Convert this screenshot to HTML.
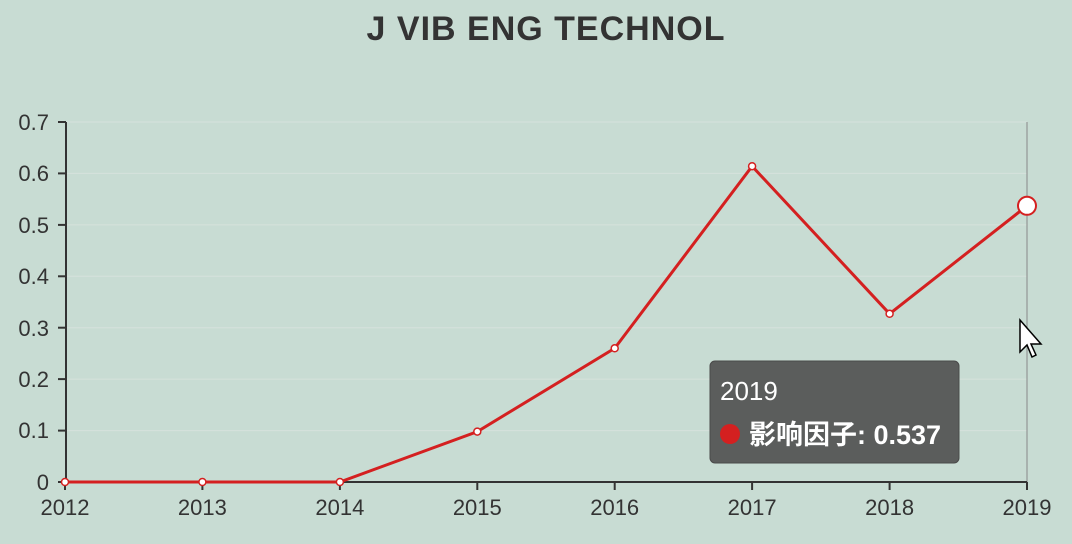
<!DOCTYPE html>
<html><head><meta charset="utf-8"><style>
html,body{margin:0;padding:0;background:#c8dcd3;}
svg{display:block;font-family:"Liberation Sans","Noto Sans CJK SC",sans-serif;}
</style></head><body>
<svg width="1072" height="544" viewBox="0 0 1072 544">
<rect width="1072" height="544" fill="#c8dcd3"/>
<text x="546" y="40" text-anchor="middle" font-size="34" font-weight="bold" fill="#333" letter-spacing="1">J VIB ENG TECHNOL</text>
<g stroke="#d6e2dc" stroke-width="1">
<line x1="66" y1="122" x2="1027" y2="122"/><line x1="66" y1="173.4" x2="1027" y2="173.4"/>
<line x1="66" y1="224.9" x2="1027" y2="224.9"/><line x1="66" y1="276.3" x2="1027" y2="276.3"/>
<line x1="66" y1="327.7" x2="1027" y2="327.7"/><line x1="66" y1="379.1" x2="1027" y2="379.1"/>
<line x1="66" y1="430.6" x2="1027" y2="430.6"/>
</g>
<line x1="1027" y1="122" x2="1027" y2="482" stroke="#888" stroke-width="1"/>
<g stroke="#333" stroke-width="2">
<line x1="66" y1="122" x2="66" y2="483"/><line x1="58" y1="482" x2="1027" y2="482"/>
<line x1="58" y1="122" x2="66" y2="122"/><line x1="58" y1="173.4" x2="66" y2="173.4"/>
<line x1="58" y1="224.9" x2="66" y2="224.9"/><line x1="58" y1="276.3" x2="66" y2="276.3"/>
<line x1="58" y1="327.7" x2="66" y2="327.7"/><line x1="58" y1="379.1" x2="66" y2="379.1"/>
<line x1="58" y1="430.6" x2="66" y2="430.6"/>
<line x1="65" y1="482" x2="65" y2="490"/><line x1="202.4" y1="482" x2="202.4" y2="490"/>
<line x1="339.9" y1="482" x2="339.9" y2="490"/><line x1="477.3" y1="482" x2="477.3" y2="490"/>
<line x1="614.7" y1="482" x2="614.7" y2="490"/><line x1="752.1" y1="482" x2="752.1" y2="490"/>
<line x1="889.6" y1="482" x2="889.6" y2="490"/><line x1="1027" y1="482" x2="1027" y2="490"/>
</g>
<g font-size="22" fill="#333" text-anchor="end">
<text x="49" y="130">0.7</text><text x="49" y="181">0.6</text><text x="49" y="233">0.5</text>
<text x="49" y="284">0.4</text><text x="49" y="336">0.3</text><text x="49" y="387">0.2</text>
<text x="49" y="438">0.1</text><text x="49" y="490">0</text>
</g>
<g font-size="22" fill="#333" text-anchor="middle">
<text x="65" y="515">2012</text><text x="202.4" y="515">2013</text><text x="339.9" y="515">2014</text>
<text x="477.3" y="515">2015</text><text x="614.7" y="515">2016</text><text x="752.1" y="515">2017</text>
<text x="889.6" y="515">2018</text><text x="1027" y="515">2019</text>
</g>
<polyline fill="none" stroke="#d42020" stroke-width="3" points="65,482 202.4,482 339.9,482 477.3,431.6 614.7,348.3 752.1,166.2 889.6,313.8 1027,205.8"/>
<g fill="#fff" stroke="#d42020" stroke-width="1.5">
<circle cx="65" cy="482" r="3.5"/><circle cx="202.4" cy="482" r="3.5"/><circle cx="339.9" cy="482" r="3.5"/>
<circle cx="477.3" cy="431.6" r="3.5"/><circle cx="614.7" cy="348.3" r="3.5"/><circle cx="752.1" cy="166.2" r="3.5"/>
<circle cx="889.6" cy="313.8" r="3.5"/><circle cx="1027" cy="205.8" r="9" stroke-width="2"/>
</g>
<rect x="710" y="361" width="249" height="102" rx="5" fill="#5b5d5c" stroke="#4a4a4a"/>
<text x="720" y="400" font-size="26" fill="#fff">2019</text>
<circle cx="730" cy="434" r="10" fill="#d42020"/>
<text x="749" y="444" font-size="27" font-weight="bold" fill="#fff">影响因子: 0.537</text>
<path d="M1020,320 L1020,352 L1027,345 L1032,357 L1036,355 L1031,344 L1041,344 Z" fill="#fff" stroke="#000" stroke-width="1.5"/>
</svg>
</body></html>
